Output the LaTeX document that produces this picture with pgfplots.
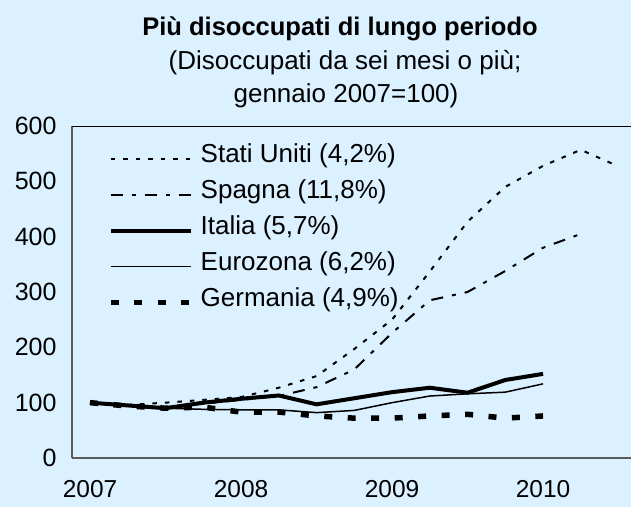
\documentclass[border=0pt]{standalone}
\usepackage{fontspec}
\setmainfont{Liberation Sans}
\usepackage{pgfplots}
\pgfplotsset{compat=1.18}
\definecolor{bg}{RGB}{219,241,255}
\definecolor{axgray}{RGB}{90,90,90}
\pgfplotstableread{
q us
0 100
1 96
2 100
3 105
4 110
5 127
6 148
7 197
8 250
9 337
10 427
11 490
12 528
13 557
14 527
}\us
\pgfplotstableread{
q es
0 100
1 95
2 92
3 98
4 105
5 112
6 128
7 160
8 226
9 285
10 300
11 338
12 380
13 405
}\es
\pgfplotstableread{
q it
0 100
1 95
2 90
3 100
4 107
5 113
6 97
7 108
8 119
9 127
10 118
11 141
12 152
}\it
\pgfplotstableread{
q ez
0 100
1 95
2 90
3 88
4 87
5 87
6 82
7 86
8 100
9 112
10 116
11 119
12 134
}\ez
\pgfplotstableread{
q de
0 100
1 94
2 90
3 92
4 83
5 83
6 76
7 72
8 72
9 76
10 79
11 72
12 76
}\de
\begin{document}
\begin{tikzpicture}[font=\fontsize{24}{29}\selectfont]
\fill[bg] (0pt,0pt) rectangle (631pt,507pt);
\node[anchor=base,font=\bfseries\fontsize{25.5}{30}\selectfont] at (340pt,471pt) {Più disoccupati di lungo periodo};
\node[anchor=base,font=\fontsize{26}{30}\selectfont] at (345pt,437pt) {(Disoccupati da sei mesi o più;};
\node[anchor=base,font=\fontsize{26}{30}\selectfont] at (346pt,404pt) {gennaio 2007=100)};
\begin{axis}[
  at={(72pt,49pt)}, anchor=south west,
  scale only axis, width=559pt, height=332pt,
  xmin=-0.477, xmax=14.33, ymin=0, ymax=600,
  axis lines*=left,
  axis line style={axgray, line width=1.4pt},
  major tick length=0pt,
  xtick={0,4,8,12}, xticklabels={2007,2008,2009,2010},
  ytick={0,100,200,300,400,500,600},
  /pgf/number format/assume math mode=true,
  ticklabel style={font=\fontsize{24.5}{29}\selectfont},
  xticklabel style={yshift=-19pt},
  yticklabel style={xshift=-12pt, font=\fontsize{25}{29}\selectfont},
  clip=false,
  legend cell align=left,
  legend image code/.code={\draw[#1] (0pt,-3pt) -- (80pt,-3pt);},
  legend style={at={(rel axis cs:0.0644,0.9518)}, anchor=north west, draw=none, fill=none,
    inner sep=0pt, row sep=9pt, column sep=7pt,
    font=\fontsize{26}{30}\selectfont,
    nodes={inner sep=0pt, text height=20pt, text depth=7pt}},
]
\draw[black, line width=1pt] (rel axis cs:0,1) -- (rel axis cs:1,1);
\addplot[black, line width=2pt, dash pattern=on 4.5pt off 8pt] table[x=q,y=us] {\us};
\addlegendentry{Stati Uniti (4,2\%)}
\addplot[black, line width=2pt, dash pattern=on 12pt off 9pt on 4pt off 9pt] table[x=q,y=es] {\es};
\addlegendentry{Spagna (11,8\%)}
\addplot[black, line width=4pt] table[x=q,y=it] {\it};
\addlegendentry{Italia (5,7\%)}
\addplot[black, line width=1.5pt] table[x=q,y=ez] {\ez};
\addlegendentry{Eurozona (6,2\%)}
\addplot[black, line width=5.5pt, dash pattern=on 8pt off 15.5pt] table[x=q,y=de] {\de};
\addlegendentry{Germania (4,9\%)}
\end{axis}
\pgfresetboundingbox
\useasboundingbox (0pt,0pt) rectangle (631pt,507pt);
\end{tikzpicture}
\end{document}
